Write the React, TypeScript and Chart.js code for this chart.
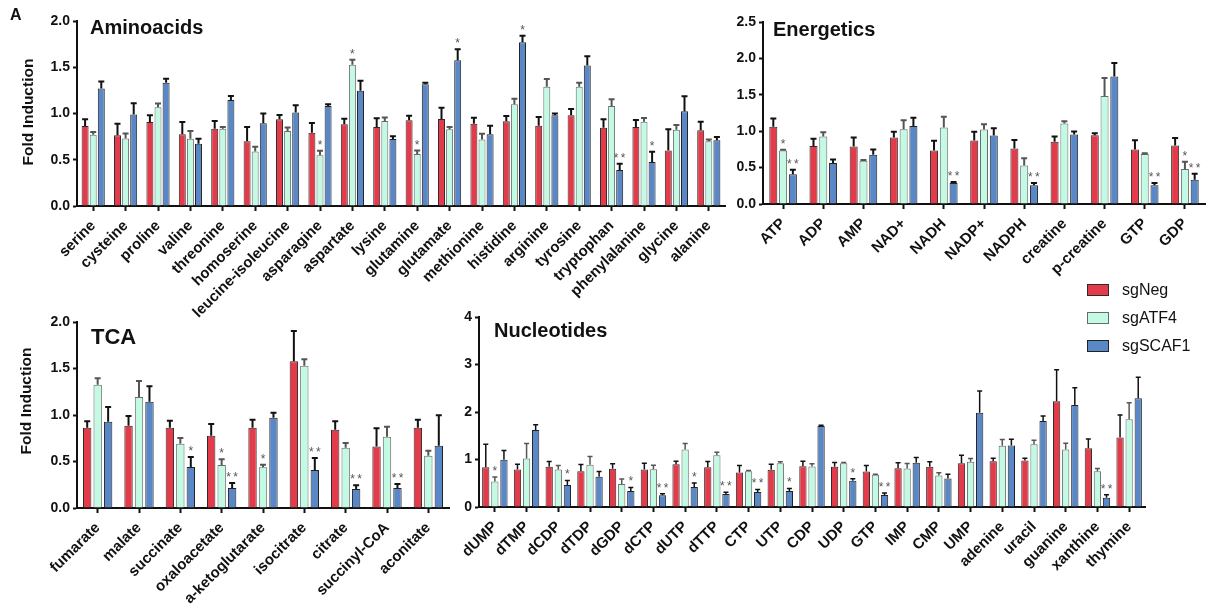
import React, { useEffect, useRef } from 'react';
import { Chart, registerables } from 'chart.js';

Chart.register(...registerables);

const FONT = '"Liberation Sans", Arial, Helvetica, sans-serif';
Chart.defaults.font.family = FONT;

// ---------- series ----------
const SERIES = ['sgNeg', 'sgATF4', 'sgSCAF1'];
const FILLS = ['#E33B4A', '#C3FAE3', '#5A88C6'];
const BORDERS = ['#2b2b2b', '#6a6a6a', '#222222'];
const ERR_COLORS = ['#111111', '#555555', '#111111'];

// ---------- Aminoacids ----------
const aminoLabels = ['serine', 'cysteine', 'proline', 'valine', 'threonine', 'homoserine', 'leucine-isoleucine', 'asparagine', 'aspartate', 'lysine', 'glutamine', 'glutamate', 'methionine', 'histidine', 'arginine', 'tyrosine', 'tryptophan', 'phenylalanine', 'glycine', 'alanine'];
const aminoNeg = [0.865, 0.764, 0.908, 0.775, 0.836, 0.70, 0.937, 0.793, 0.883, 0.854, 0.926, 0.94, 0.89, 0.915, 0.868, 0.98, 0.847, 0.854, 0.60, 0.818];
const aminoNegErr = [0.072, 0.126, 0.072, 0.133, 0.084, 0.154, 0.047, 0.104, 0.061, 0.094, 0.051, 0.123, 0.065, 0.058, 0.094, 0.069, 0.09, 0.076, 0.229, 0.094];
const aminoAtf = [0.77, 0.73, 1.067, 0.728, 0.836, 0.59, 0.81, 0.548, 1.528, 0.919, 0.562, 0.829, 0.72, 1.10, 1.29, 1.29, 1.081, 0.912, 0.825, 0.70];
const aminoAtfErr = [0.03, 0.055, 0.04, 0.082, 0.018, 0.05, 0.04, 0.05, 0.054, 0.039, 0.038, 0.025, 0.062, 0.06, 0.083, 0.043, 0.072, 0.039, 0.051, 0.02];
const aminoScaf = [1.27, 0.99, 1.333, 0.674, 1.146, 0.894, 1.01, 1.081, 1.247, 0.724, 1.315, 1.575, 0.775, 1.77, 0.98, 1.52, 0.389, 0.476, 1.023, 0.71];
const aminoScafErr = [0.075, 0.12, 0.044, 0.054, 0.044, 0.106, 0.08, 0.019, 0.108, 0.029, 0.018, 0.119, 0.093, 0.07, 0.02, 0.098, 0.069, 0.111, 0.163, 0.036];
const aminoNegStars = ['', '', '', '', '', '', '', '', '', '', '', '', '', '', '', '', '', '', '', ''];
const aminoAtfStars = ['', '', '', '', '', '', '', '*', '*', '', '*', '', '', '', '', '', '', '', '', ''];
const aminoScafStars = ['', '', '', '', '', '', '', '', '', '', '', '*', '', '*', '', '', '**', '*', '', ''];
const aminoTicks = [0, 0.5, 1.0, 1.5, 2.0];

// ---------- Energetics ----------
const energyLabels = ['ATP', 'ADP', 'AMP', 'NAD+', 'NADH', 'NADP+', 'NADPH', 'creatine', 'p-creatine', 'GTP', 'GDP'];
const energyNeg = [1.06, 0.795, 0.79, 0.914, 0.736, 0.873, 0.763, 0.855, 0.946, 0.75, 0.804];
const energyNegErr = [0.115, 0.101, 0.124, 0.078, 0.132, 0.119, 0.117, 0.073, 0.027, 0.127, 0.101];
const energyAtf = [0.736, 0.928, 0.594, 1.028, 1.05, 1.024, 0.53, 1.106, 1.485, 0.686, 0.48];
const energyAtfErr = [0.01, 0.059, 0.01, 0.124, 0.147, 0.073, 0.10, 0.032, 0.245, 0.01, 0.10];
const energyScaf = [0.407, 0.562, 0.676, 1.07, 0.29, 0.94, 0.256, 0.955, 1.75, 0.256, 0.334];
const energyScafErr = [0.063, 0.05, 0.074, 0.114, 0.012, 0.10, 0.032, 0.041, 0.188, 0.032, 0.082];
const energyNegStars = ['', '', '', '', '', '', '', '', '', '', ''];
const energyAtfStars = ['*', '', '', '', '', '', '', '', '', '', '*'];
const energyScafStars = ['**', '', '', '', '**', '', '**', '', '', '**', '**'];
const energyTicks = [0, 0.5, 1.0, 1.5, 2.0, 2.5];

// ---------- TCA ----------
const tcaLabels = ['fumarate', 'malate', 'succinate', 'oxaloacetate', 'a-ketoglutarate', 'isocitrate', 'citrate', 'succinyl-CoA', 'aconitate'];
const tcaNeg = [0.864, 0.885, 0.864, 0.778, 0.864, 1.577, 0.842, 0.66, 0.864];
const tcaNegErr = [0.068, 0.104, 0.075, 0.125, 0.086, 0.326, 0.09, 0.197, 0.086];
const tcaAtf = [1.326, 1.194, 0.692, 0.462, 0.437, 1.53, 0.649, 0.767, 0.563];
const tcaAtfErr = [0.068, 0.172, 0.061, 0.061, 0.029, 0.069, 0.05, 0.108, 0.053];
const tcaScaf = [0.928, 1.143, 0.441, 0.215, 0.971, 0.409, 0.204, 0.215, 0.67];
const tcaScafErr = [0.158, 0.165, 0.107, 0.054, 0.054, 0.129, 0.04, 0.043, 0.326];
const tcaNegStars = ['', '', '', '', '', '', '', '', ''];
const tcaAtfStars = ['', '', '', '*', '*', '', '', '', ''];
const tcaScafStars = ['', '', '*', '**', '', '**', '**', '**', ''];
const tcaTicks = [0, 0.5, 1.0, 1.5, 2.0];

// ---------- Nucleotides ----------
const nucLabels = ['dUMP', 'dTMP', 'dCDP', 'dTDP', 'dGDP', 'dCTP', 'dUTP', 'dTTP', 'CTP', 'UTP', 'CDP', 'UDP', 'GTP', 'IMP', 'CMP', 'UMP', 'adenine', 'uracil', 'guanine', 'xanthine', 'thymine'];
const nucNeg = [0.839, 0.79, 0.846, 0.755, 0.804, 0.79, 0.902, 0.839, 0.727, 0.783, 0.86, 0.846, 0.748, 0.818, 0.846, 0.923, 0.965, 0.979, 2.224, 1.238, 1.462];
const nucNegErr = [0.481, 0.112, 0.112, 0.14, 0.105, 0.133, 0.063, 0.119, 0.147, 0.119, 0.105, 0.091, 0.126, 0.112, 0.105, 0.168, 0.063, 0.049, 0.664, 0.196, 0.475];
const nucAtf = [0.538, 1.021, 0.79, 0.888, 0.483, 0.797, 1.21, 1.091, 0.755, 0.923, 0.853, 0.923, 0.678, 0.811, 0.664, 0.951, 1.287, 1.322, 1.21, 0.755, 1.846];
const nucAtfErr = [0.091, 0.315, 0.084, 0.175, 0.104, 0.084, 0.126, 0.063, 0.014, 0.028, 0.056, 0.014, 0.014, 0.105, 0.056, 0.07, 0.133, 0.084, 0.133, 0.056, 0.35];
const nucScaf = [0.993, 1.622, 0.462, 0.636, 0.336, 0.245, 0.42, 0.273, 0.315, 0.336, 1.706, 0.552, 0.252, 0.93, 0.601, 1.986, 1.294, 1.811, 2.147, 0.196, 2.287];
const nucScafErr = [0.196, 0.112, 0.097, 0.112, 0.077, 0.035, 0.083, 0.035, 0.055, 0.056, 0.014, 0.042, 0.042, 0.112, 0.091, 0.454, 0.133, 0.105, 0.363, 0.063, 0.447];
const nucNegStars = ['', '', '', '', '', '', '', '', '', '', '', '', '', '', '', '', '', '', '', '', ''];
const nucAtfStars = ['*', '', '', '', '', '', '', '', '', '', '', '', '', '', '', '', '', '', '', '', ''];
const nucScafStars = ['', '', '*', '', '*', '**', '*', '**', '**', '*', '', '*', '**', '', '', '', '', '', '', '**', ''];
const nucTicks = [0, 1, 2, 3, 4];

// ---------- plugins ----------
const errorBarPlugin = {
  id: 'errBars',
  afterDatasetsDraw(chart: any, _args: any, opts: any) {
    const ctx = chart.ctx;
    const yScale = chart.scales.y;
    chart.data.datasets.forEach((ds: any, i: number) => {
      const meta = chart.getDatasetMeta(i);
      meta.data.forEach((bar: any, j: number) => {
        const v = ds.data[j];
        const e = ds.errors[j];
        const yt = yScale.getPixelForValue(v + e);
        ctx.save();
        ctx.strokeStyle = ds.errColor;
        ctx.lineWidth = opts.lineWidth;
        ctx.beginPath();
        ctx.moveTo(bar.x, bar.y);
        ctx.lineTo(bar.x, yt);
        ctx.moveTo(bar.x - opts.cap, yt);
        ctx.lineTo(bar.x + opts.cap, yt);
        ctx.stroke();
        const s = ds.stars[j];
        if (s) {
          ctx.fillStyle = '#555';
          ctx.font = `12px ${FONT}`;
          ctx.textAlign = 'center';
          ctx.textBaseline = 'alphabetic';
          const n = s.length;
          for (let k = 0; k < n; k++) {
            ctx.fillText('*', bar.x + (k - (n - 1) / 2) * 7, yt - 2);
          }
        }
        ctx.restore();
      });
    });
  },
};

const panelTextPlugin = {
  id: 'panelText',
  afterDraw(chart: any, _args: any, opts: any) {
    const ctx = chart.ctx;
    const a = chart.chartArea;
    ctx.save();
    ctx.fillStyle = '#111';
    ctx.font = `bold ${opts.size}px ${FONT}`;
    ctx.textAlign = 'left';
    ctx.textBaseline = 'alphabetic';
    ctx.fillText(opts.text, a.left + opts.dx, a.top + opts.dy);
    if (opts.yTitle) {
      ctx.translate(opts.yTitleX, opts.yTitleY);
      ctx.rotate(-Math.PI / 2);
      ctx.font = `bold 15.5px ${FONT}`;
      ctx.textAlign = 'center';
      ctx.textBaseline = 'middle';
      ctx.fillText(opts.yTitle, 0, 0);
    }
    ctx.restore();
  },
};

type Panel = {
  title: string;
  titleSize: number;
  titleDx: number;
  titleDy: number;
  labels: string[];
  values: number[][];
  errors: number[][];
  stars: string[][];
  ticks: number[];
  decimals: number;
  yTitle: string;
  yTitleX: number;
  yTitleY: number;
  left: number;
  top: number;
  width: number;
  height: number;
  yWidth: number;
  xHeight: number;
  padTop: number;
  padRight: number;
  catPct: number;
  barPct: number;
  errWidth: number;
  cap: number;
};

const panels: Panel[] = [
  {
    title: 'Aminoacids', titleSize: 20, titleDx: 13, titleDy: 13,
    labels: aminoLabels,
    values: [aminoNeg, aminoAtf, aminoScaf],
    errors: [aminoNegErr, aminoAtfErr, aminoScafErr],
    stars: [aminoNegStars, aminoAtfStars, aminoScafStars],
    ticks: aminoTicks, decimals: 1, yTitle: 'Fold Induction', yTitleX: 29, yTitleY: 112,
    left: 0, top: 0, width: 745, height: 330, yWidth: 77, xHeight: 124, padTop: 21, padRight: 20,
    catPct: 0.75, barPct: 0.86, errWidth: 2, cap: 3,
  },
  {
    title: 'Energetics', titleSize: 20, titleDx: 10, titleDy: 14,
    labels: energyLabels,
    values: [energyNeg, energyAtf, energyScaf],
    errors: [energyNegErr, energyAtfErr, energyScafErr],
    stars: [energyNegStars, energyAtfStars, energyScafStars],
    ticks: energyTicks, decimals: 1, yTitle: '', yTitleX: 0, yTitleY: 0,
    left: 700, top: 0, width: 507, height: 300, yWidth: 63, xHeight: 96, padTop: 22, padRight: 2,
    catPct: 0.73, barPct: 0.82, errWidth: 2, cap: 3,
  },
  {
    title: 'TCA', titleSize: 22, titleDx: 14, titleDy: 22,
    labels: tcaLabels,
    values: [tcaNeg, tcaAtf, tcaScaf],
    errors: [tcaNegErr, tcaAtfErr, tcaScafErr],
    stars: [tcaNegStars, tcaAtfStars, tcaScafStars],
    ticks: tcaTicks, decimals: 1, yTitle: 'Fold Induction', yTitleX: 27, yTitleY: 101,
    left: 0, top: 300, width: 470, height: 311, yWidth: 77, xHeight: 103, padTop: 22, padRight: 21,
    catPct: 0.76, barPct: 0.8, errWidth: 2, cap: 3,
  },
  {
    title: 'Nucleotides', titleSize: 20, titleDx: 15, titleDy: 20,
    labels: nucLabels,
    values: [nucNeg, nucAtf, nucScaf],
    errors: [nucNegErr, nucAtfErr, nucScafErr],
    stars: [nucNegStars, nucAtfStars, nucScafStars],
    ticks: nucTicks, decimals: 0, yTitle: '', yTitleX: 0, yTitleY: 0,
    left: 440, top: 300, width: 767, height: 311, yWidth: 39, xHeight: 104, padTop: 17, padRight: 62,
    catPct: 0.86, barPct: 0.8, errWidth: 1.5, cap: 2.5,
  },
];

function PanelChart({ p }: { p: Panel }) {
  const ref = useRef<HTMLCanvasElement | null>(null);
  useEffect(() => {
    if (!ref.current) return;
    const maxY = p.ticks[p.ticks.length - 1];
    const chart = new Chart(ref.current, {
      type: 'bar',
      data: {
        labels: p.labels,
        datasets: SERIES.map((name, i) => ({
          label: name,
          data: p.values[i],
          errors: p.errors[i],
          stars: p.stars[i],
          errColor: ERR_COLORS[i],
          backgroundColor: FILLS[i],
          borderColor: BORDERS[i],
          borderWidth: 1,
          borderSkipped: 'bottom',
          categoryPercentage: p.catPct,
          barPercentage: p.barPct,
        })) as any,
      },
      plugins: [errorBarPlugin, panelTextPlugin],
      options: {
        responsive: false,
        animation: false,
        devicePixelRatio: 1,
        layout: { padding: { top: p.padTop, right: p.padRight, left: 0, bottom: 0 } },
        plugins: {
          legend: { display: false },
          tooltip: { enabled: false },
          errBars: { lineWidth: p.errWidth, cap: p.cap },
          panelText: {
            text: p.title, size: p.titleSize, dx: p.titleDx, dy: p.titleDy,
            yTitle: p.yTitle, yTitleX: p.yTitleX, yTitleY: p.yTitleY,
          },
        } as any,
        scales: {
          x: {
            offset: true,
            grid: {
              offset: false,
              drawOnChartArea: false,
              drawTicks: true,
              tickLength: 5,
              tickWidth: 2,
              tickColor: '#111',
            },
            border: { display: true, color: '#111', width: 2 },
            ticks: {
              autoSkip: false,
              minRotation: 45,
              maxRotation: 45,
              padding: 6,
              color: '#111',
              font: { size: 15, weight: 'bold', family: FONT },
            },
            afterFit: (s: any) => { s.height = p.xHeight; },
          },
          y: {
            min: 0,
            max: maxY,
            afterBuildTicks: (s: any) => { s.ticks = p.ticks.map((v) => ({ value: v })); },
            grid: {
              drawOnChartArea: false,
              drawTicks: true,
              tickLength: 4,
              tickWidth: 2,
              tickColor: '#111',
            },
            border: { display: true, color: '#111', width: 2 },
            ticks: {
              padding: 3,
              color: '#111',
              font: { size: 14, weight: 'bold', family: FONT },
              callback: (v: any) => Number(v).toFixed(p.decimals),
            },
            afterFit: (s: any) => { s.width = p.yWidth; },
          },
        },
      } as any,
    });
    return () => chart.destroy();
  }, [p]);
  return (
    <canvas
      ref={ref}
      width={p.width}
      height={p.height}
      style={{ position: 'absolute', left: p.left, top: p.top, width: p.width, height: p.height }}
    />
  );
}

export default function App() {
  return (
    <div style={{ position: 'absolute', left: 0, top: 0, width: 1207, height: 611, background: '#fff', fontFamily: FONT, overflow: 'hidden' }}>
      {panels.map((p) => (
        <PanelChart key={p.title} p={p} />
      ))}
      <div style={{ position: 'absolute', left: 10, top: 7, fontSize: 16, fontWeight: 'bold', lineHeight: '16px', color: '#111' }}>A</div>
      <div style={{ position: 'absolute', left: 1087, top: 276 }}>
        {SERIES.map((name, i) => (
          <div key={name} style={{ display: 'flex', alignItems: 'center', height: 28 }}>
            <div style={{ width: 20, height: 10, background: FILLS[i], border: `1px solid ${BORDERS[i]}` }} />
            <div style={{ marginLeft: 13, fontSize: 16, color: '#111', lineHeight: '16px' }}>{name}</div>
          </div>
        ))}
      </div>
    </div>
  );
}
